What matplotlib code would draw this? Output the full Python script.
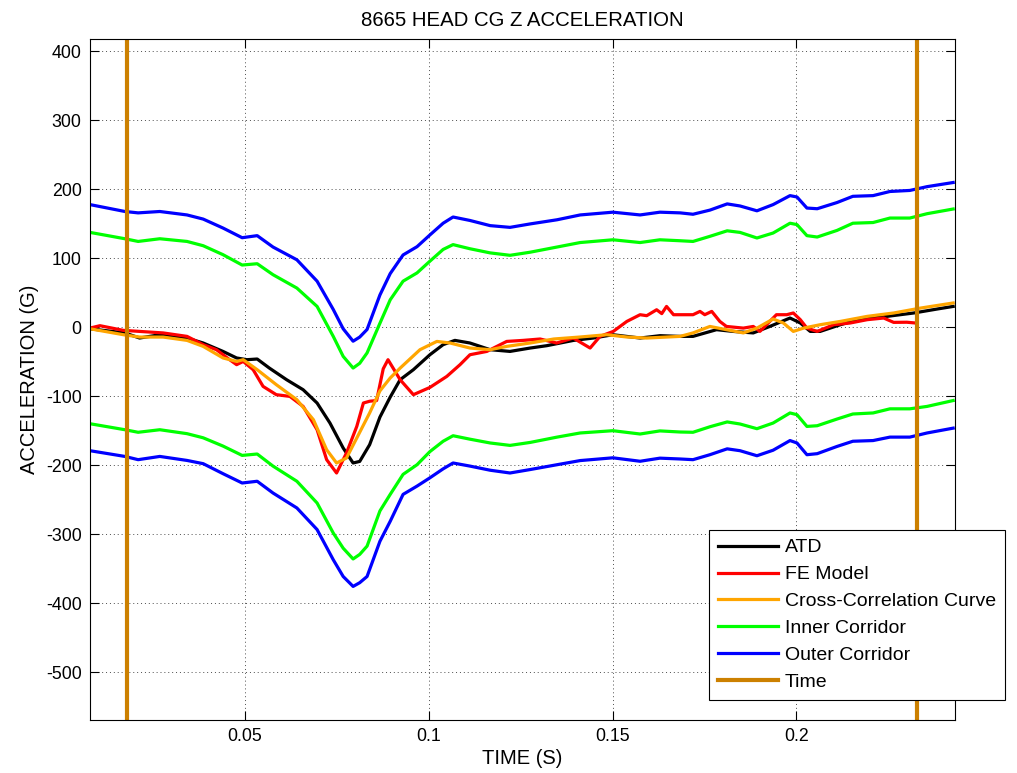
import matplotlib.pyplot as plt

plt.rcParams['font.family'] = ['Liberation Sans', 'DejaVu Sans']
plt.rcParams['axes.unicode_minus'] = False

# ATD test signal
atd_t = [0.0078, 0.0173, 0.0213, 0.0268, 0.0342, 0.0386, 0.044, 0.0477, 0.0505, 0.0533,
         0.0566, 0.0613, 0.0658, 0.0696, 0.0731, 0.0767, 0.0794, 0.0812, 0.0839, 0.0867,
         0.0895, 0.0922, 0.0958, 0.1003, 0.1039, 0.1071, 0.1112, 0.1167, 0.1221, 0.1276,
         0.1321, 0.1394, 0.1448, 0.1501, 0.1575, 0.1629, 0.1684, 0.1719, 0.1783, 0.1828,
         0.1883, 0.1928, 0.1983, 0.2011, 0.2038, 0.2065, 0.212, 0.2174, 0.2247, 0.232,
         0.2383, 0.2427]
atd_g = [-2, -8, -15.4, -10.6, -15.4, -22.6, -34.8, -44.3, -46.8, -45.8,
         -58.9, -75.8, -90.3, -109.6, -138.6, -174.8, -196.5, -194.2, -170, -130,
         -101, -75.8, -61.3, -39.6, -25, -18.8, -22.6, -32.3, -34.8, -29.9,
         -26.5, -18.8, -15.4, -10.6, -15.4, -12, -13, -13, -3.3, -5.8,
         -8, 1.4, 13.6, 6.4, -5.8, -5.8, 3.9, 12.2, 16, 20.9,
         26.6, 30.4]

# FE model
fe_t = [0.0078, 0.0105, 0.0169, 0.0213, 0.0277, 0.0342, 0.0386, 0.0422, 0.0458, 0.0477,
        0.0495, 0.0522, 0.0549, 0.0585, 0.0622, 0.0658, 0.0696, 0.0722, 0.0749, 0.0776,
        0.0804, 0.0822, 0.0839, 0.0858, 0.0876, 0.0889, 0.0922, 0.0958, 0.1003, 0.1049,
        0.1085, 0.1112, 0.1158, 0.1212, 0.1257, 0.1303, 0.1348, 0.1393, 0.1439, 0.1466,
        0.1502, 0.1539, 0.1575, 0.1593, 0.162, 0.1634, 0.1647, 0.1666, 0.1719, 0.1738,
        0.1751, 0.177, 0.1792, 0.181, 0.1856, 0.1883, 0.1901, 0.1946, 0.1974, 0.1992,
        0.2011, 0.2029, 0.2057, 0.2102, 0.2147, 0.2193, 0.2238, 0.2265, 0.2301, 0.2324]
fe_g = [-1, 2.5, -4.3, -5.8, -8, -13, -25, -32.3, -46.8, -54,
        -49.3, -61.3, -85.5, -97.5, -100, -114.5, -148.3, -191.7, -211, -182,
        -143.5, -109.6, -107, -106, -60, -46.8, -75.8, -97.5, -87, -71,
        -54, -39.6, -34.8, -20.3, -18.8, -16.8, -22.6, -15.4, -29.9, -13,
        -5.8, 8.7, 18.4, 17, 25.6, 20, 30.4, 18.4, 18.4, 23.2,
        18.4, 23.2, 8.7, 1.4, -1, 1.4, -5.8, 18.4, 18.4, 20.9,
        11.2, -1, -5.8, 3.9, 6.4, 11.2, 13.6, 7.3, 7.5, 6.4]

# cross-correlation curve
cc_t = [0.0078, 0.0169, 0.0213, 0.0277, 0.0342, 0.0386, 0.044, 0.0477, 0.0495, 0.0533,
        0.0585, 0.0641, 0.0686, 0.0722, 0.0749, 0.0776, 0.0804, 0.0839, 0.0867, 0.0895,
        0.0922, 0.0976, 0.1022, 0.1058, 0.1112, 0.1167, 0.1212, 0.1276, 0.134, 0.1412,
        0.1484, 0.1539, 0.1593, 0.1684, 0.1719, 0.1765, 0.181, 0.1856, 0.1893, 0.1937,
        0.1965, 0.1992, 0.202, 0.2065, 0.212, 0.2193, 0.2265, 0.2338, 0.2427]
cc_g = [-2, -10.6, -14, -14, -18.8, -27.5, -44.3, -49.3, -46.8, -61.3,
        -83, -104.8, -133.8, -177.3, -196.5, -189.3, -160.3, -124, -92, -73.3,
        -59, -32.3, -20.3, -22.6, -29.9, -32.3, -27.5, -22.6, -16.8, -13.9,
        -10.6, -13.9, -15.4, -13, -8, 1.4, -3.3, -8, -1, 12.2,
        6.4, -5.8, -1, 3.9, 8.7, 16, 20.9, 28, 35.4]

# corridors
cor_t = [0.0078, 0.0173, 0.0209, 0.0268, 0.0342, 0.0386, 0.044, 0.0492, 0.0533, 0.0576,
         0.0641, 0.0696, 0.074, 0.0767, 0.0794, 0.0812, 0.0832, 0.0867, 0.0895, 0.093,
         0.0968, 0.1003, 0.1039, 0.1066, 0.1112, 0.1167, 0.1221, 0.1276, 0.1349, 0.1412,
         0.1501, 0.1575, 0.1629, 0.1684, 0.1719, 0.1765, 0.1812, 0.1847, 0.1893, 0.1937,
         0.1983, 0.2002, 0.2029, 0.2057, 0.2111, 0.2154, 0.2209, 0.2255, 0.2309, 0.2356,
         0.2427]
outer_up = [178, 168, 166, 168, 163, 157, 144, 130, 133, 116.5,
            98, 67, 26, -2, -20, -14, -3, 47, 78, 105,
            117, 134, 151, 160, 155, 147.5, 145, 150, 156, 163,
            167, 163, 167, 166, 164, 170, 179, 176, 169, 178,
            191, 189, 173, 172, 181, 190, 191, 197, 198.5, 204,
            210]
inner_up = [137.7, 128.5, 124.6, 128.5, 124.6, 118.4, 105.4, 90.4, 92.3, 76.4,
            57, 30.4, -13, -42, -58.9, -52, -37, 6, 40, 67,
            79, 96, 113, 120, 114, 108, 104.5, 109, 116.5, 123,
            127, 123, 127, 125.6, 124.6, 132, 140, 137.7, 129.6, 136.8,
            151, 149, 133, 131, 140.6, 151, 152, 158.5, 158.5, 164.8,
            171.6]
inner_low = [-139.6, -148.3, -152, -148.3, -154, -160, -172, -185.5, -183.5, -201,
             -223, -254.5, -298, -320, -335.6, -329, -317, -266, -242, -213,
             -199, -180, -165, -157, -162, -167.5, -171, -166.7, -159, -153,
             -149.7, -154.5, -150, -151.6, -152, -144, -137, -140, -146.8, -138.6,
             -124, -126.5, -143.5, -142.5, -132.8, -125.5, -124, -118, -118, -114.5,
             -106]
outer_low = [-178.7, -187, -191.7, -187, -192.8, -197.5, -212, -225.5, -223, -240,
             -261.7, -293, -336.7, -361, -375.4, -370, -361, -310, -281, -242,
             -230, -218, -205, -196.5, -201, -207, -211, -206, -199, -193,
             -189, -194, -189.5, -190.7, -191.7, -184.5, -176, -178.7, -186, -178,
             -164, -167.5, -184.5, -183, -172.5, -165, -164, -159, -159, -153,
             -146]

# evaluation window
window = [0.018, 0.2328]

xticks = [0.05, 0.1, 0.15, 0.2]
xticklabels = ["0.05", "0.1", "0.15", "0.2"]
yticks = [-500, -400, -300, -200, -100, 0, 100, 200, 300, 400]

fig = plt.figure(figsize=(10.17, 7.73), dpi=100)
ax = fig.add_axes([90 / 1017, 53 / 773, 865 / 1017, 681 / 773])

lw = 2.3
ax.plot(atd_t, atd_g, color="k", lw=lw, label="ATD")
ax.plot(fe_t, fe_g, color="r", lw=lw, label="FE Model")
ax.plot(cc_t, cc_g, color="#FFA500", lw=lw, label="Cross-Correlation Curve")
ax.plot(cor_t, inner_up, color="#00FF00", lw=lw, label="Inner Corridor")
ax.plot(cor_t, inner_low, color="#00FF00", lw=lw)
ax.plot(cor_t, outer_up, color="b", lw=lw, label="Outer Corridor")
ax.plot(cor_t, outer_low, color="b", lw=lw)
for i, t in enumerate(window):
    ax.axvline(t, color="#CC8000", lw=3, label="Time" if i == 0 else None)

ax.set_xlim(0.0078, 0.2432)
ax.set_ylim(-569, 418)
ax.set_xticks(xticks)
ax.set_xticklabels(xticklabels)
ax.set_yticks(yticks)
ax.grid(True, linestyle=(0, (1, 3)), color="0.3", linewidth=0.7)
ax.tick_params(direction="in", length=6.5, width=0.8, labelsize=12.8,
               top=True, right=True, pad=6)
for s in ax.spines.values():
    s.set_linewidth(0.8)

ax.set_title("8665 HEAD CG Z ACCELERATION", fontsize=14.7, pad=9)
ax.set_xlabel("TIME (S)", fontsize=14.5, labelpad=3)
ax.set_ylabel("ACCELERATION (G)", fontsize=14.5, labelpad=5)

leg = ax.legend(loc="upper left", bbox_to_anchor=(709 / 1017, 1 - 530 / 773),
                bbox_transform=fig.transFigure, borderaxespad=0, fontsize=14,
                fancybox=False, edgecolor="k", framealpha=1, handlelength=3.1,
                handletextpad=0.35, labelspacing=0.48, borderpad=0.45)
leg.get_frame().set_linewidth(0.8)

fig.savefig("out.png", dpi=100)
